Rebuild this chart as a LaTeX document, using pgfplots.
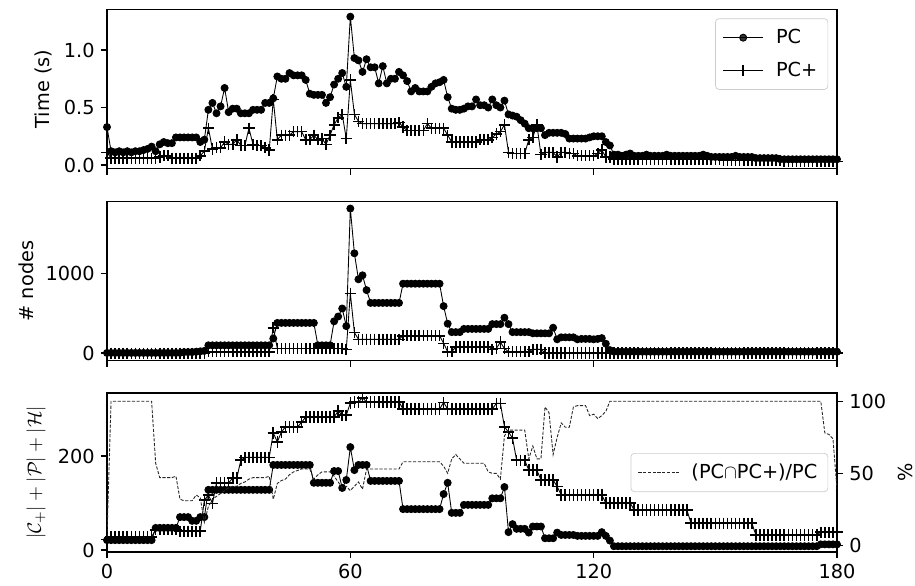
\documentclass[border=0pt]{standalone}
\usepackage{fontspec}
\setmainfont{DejaVu Sans}
\usepackage{pgfplots}
\usepackage{pgfplotstable}
\pgfplotsset{compat=1.18}

% x: step, tpc/tpp: time (s), npc/npp: # nodes, spc/spp: |C+|+|P|+|H|, ovl: overlap in %
\pgfplotstableread{
x tpc tpp npc npp spc spp ovl
0 0.33 0.11 5 2 21 22 6
1 0.12 0.06 5 2 21 28 100
2 0.11 0.06 5 2 21 28 100
3 0.12 0.06 5 2 21 28 100
4 0.11 0.06 5 2 21 28 100
5 0.12 0.06 5 2 21 28 100
6 0.11 0.06 5 2 21 28 100
7 0.12 0.06 5 2 21 28 100
8 0.12 0.06 5 2 21 28 100
9 0.13 0.06 5 2 21 28 100
10 0.14 0.06 5 2 21 28 100
11 0.16 0.06 5 2 21 28 100
12 0.12 0.06 5 2 47 43 57
13 0.18 0.07 5 2 47 43 47
14 0.20 0.08 5 2 47 43 47
15 0.19 0.08 5 2 47 43 47
16 0.19 0.06 5 2 47 43 47
17 0.24 0.06 5 2 47 43 48
18 0.24 0.06 5 2 70 40 32
19 0.24 0.06 15 2 70 40 31
20 0.24 0.06 15 2 70 40 31
21 0.24 0.06 15 2 62 40 31
22 0.24 0.06 20 2 62 40 35
23 0.20 0.08 25 2 70 40 33
24 0.22 0.12 30 2 70 106 16
25 0.48 0.32 100 20 128 117 27
26 0.54 0.14 100 20 128 99 32
27 0.45 0.15 100 20 128 143 34
28 0.51 0.15 100 20 128 143 36
29 0.67 0.20 100 20 128 143 38
30 0.46 0.18 100 20 128 143 40
31 0.49 0.18 100 20 128 153 41
32 0.49 0.22 100 20 128 153 41
33 0.45 0.17 100 20 128 191 43
34 0.45 0.17 100 20 128 197 44
35 0.45 0.32 100 20 128 197 46
36 0.48 0.18 100 20 128 197 47
37 0.48 0.17 100 20 128 197 47
38 0.48 0.17 100 20 128 197 47
39 0.54 0.15 100 20 128 197 47
40 0.54 0.13 100 20 128 197 48
41 0.58 0.57 185 320 181 249 32
42 0.77 0.22 380 60 181 230 43
43 0.75 0.26 380 60 181 251 45
44 0.75 0.26 380 60 181 262 46
45 0.80 0.26 380 60 181 262 49
46 0.78 0.29 380 60 181 262 51
47 0.78 0.29 380 60 181 262 52
48 0.78 0.29 380 60 181 272 53
49 0.74 0.22 380 60 181 283 53
50 0.62 0.22 380 60 181 283 53
51 0.61 0.26 380 60 143 283 46
52 0.61 0.22 100 60 143 283 49
53 0.61 0.23 100 60 143 283 51
54 0.54 0.18 100 60 143 283 51
55 0.59 0.26 100 60 143 283 51
56 0.70 0.35 400 60 168 283 48
57 0.75 0.41 460 60 168 296 44
58 0.80 0.44 560 60 132 287 40
59 0.68 0.23 340 50 149 287 41
60 1.29 0.74 1810 750 219 313 38
61 0.93 0.44 1250 260 170 315 41
62 0.91 0.38 925 175 181 315 44
63 0.81 0.36 975 175 181 324 39
64 0.92 0.36 790 175 181 315 53
65 0.85 0.36 630 175 147 315 53
66 0.85 0.36 630 175 147 315 53
67 0.71 0.36 630 175 147 315 53
68 0.86 0.36 630 175 147 315 53
69 0.71 0.36 630 175 147 315 53
70 0.75 0.36 630 175 147 315 53
71 0.75 0.36 630 175 147 315 53
72 0.81 0.37 630 175 147 315 53
73 0.78 0.33 870 220 87 300 58
74 0.73 0.30 870 220 87 300 58
75 0.64 0.30 870 220 87 300 58
76 0.67 0.30 870 220 87 300 58
77 0.64 0.30 870 220 87 300 58
78 0.64 0.30 870 220 87 300 58
79 0.64 0.36 870 220 87 300 58
80 0.68 0.32 870 220 87 300 58
81 0.71 0.32 870 220 87 300 58
82 0.72 0.32 870 220 87 300 58
83 0.74 0.32 590 125 119 314 55
84 0.59 0.26 370 20 143 300 50
85 0.49 0.20 265 20 79 300 60
86 0.48 0.20 265 80 79 300 63
87 0.48 0.20 265 80 79 300 60
88 0.49 0.20 305 80 96 300 57
89 0.51 0.20 305 80 96 300 57
90 0.51 0.20 305 80 96 300 57
91 0.57 0.20 305 80 96 300 57
92 0.52 0.22 305 80 96 300 57
93 0.52 0.22 305 80 96 300 57
94 0.50 0.22 305 80 96 300 51
95 0.57 0.24 365 50 110 300 50
96 0.52 0.27 365 60 110 312 50
97 0.50 0.29 365 140 110 312 46
98 0.56 0.35 445 60 134 262 76
99 0.44 0.11 365 20 38 251 80
100 0.43 0.10 265 20 55 238 80
101 0.42 0.10 265 20 45 191 80
102 0.39 0.10 265 20 45 191 80
103 0.36 0.10 265 20 45 191 80
104 0.32 0.22 265 20 37 170 60
105 0.32 0.24 250 50 50 170 69
106 0.32 0.35 250 50 50 170 60
107 0.32 0.09 250 50 50 149 60
108 0.26 0.11 250 5 25 149 96
109 0.28 0.11 250 5 25 149 92
110 0.28 0.11 320 5 25 149 63
111 0.28 0.07 175 5 37 135 75
112 0.28 0.11 200 5 32 117 85
113 0.27 0.11 200 5 32 117 82
114 0.23 0.10 200 5 32 117 82
115 0.23 0.10 200 5 32 117 96
116 0.23 0.08 175 5 30 117 97
117 0.23 0.08 180 5 30 117 97
118 0.23 0.08 180 5 30 117 97
119 0.24 0.08 180 5 30 117 90
120 0.25 0.08 175 5 30 117 91
121 0.25 0.10 180 5 30 117 88
122 0.25 0.13 190 5 38 117 90
123 0.20 0.07 120 5 30 100 93
124 0.17 0.07 40 5 20 100 100
125 0.09 0.05 20 5 8 100 100
126 0.09 0.05 20 5 8 100 100
127 0.08 0.05 20 5 8 100 100
128 0.09 0.05 20 5 8 100 100
129 0.10 0.05 20 5 8 100 100
130 0.08 0.05 20 5 8 85 100
131 0.08 0.05 20 5 8 85 100
132 0.08 0.05 20 5 8 85 100
133 0.09 0.05 20 5 8 85 100
134 0.08 0.05 20 5 8 85 100
135 0.08 0.05 20 5 8 85 100
136 0.08 0.05 20 5 8 85 100
137 0.08 0.05 20 5 8 85 100
138 0.09 0.05 20 5 8 85 100
139 0.08 0.05 20 5 8 85 100
140 0.08 0.05 20 5 8 85 100
141 0.08 0.05 20 5 8 85 100
142 0.08 0.05 20 5 8 85 100
143 0.08 0.05 20 5 8 85 100
144 0.08 0.05 20 5 8 57 100
145 0.08 0.05 20 5 8 57 100
146 0.08 0.05 20 5 8 57 100
147 0.09 0.05 20 5 8 57 100
148 0.08 0.05 20 5 8 57 100
149 0.07 0.05 20 5 8 57 100
150 0.07 0.05 20 5 8 57 100
151 0.07 0.05 20 5 8 57 100
152 0.07 0.04 20 5 8 57 100
153 0.07 0.04 20 5 8 57 100
154 0.07 0.04 20 5 8 57 100
155 0.08 0.04 20 5 8 57 100
156 0.07 0.04 20 5 8 57 100
157 0.07 0.04 20 5 8 57 100
158 0.07 0.04 20 5 8 57 100
159 0.07 0.04 20 5 8 57 100
160 0.06 0.04 20 5 8 32 100
161 0.06 0.04 20 5 8 32 100
162 0.06 0.04 20 5 8 32 100
163 0.06 0.04 20 5 8 32 100
164 0.06 0.04 20 5 8 32 100
165 0.06 0.04 20 5 8 32 100
166 0.05 0.04 20 5 8 32 100
167 0.05 0.03 20 5 8 32 100
168 0.05 0.03 20 5 8 32 100
169 0.05 0.03 20 5 8 32 100
170 0.05 0.03 20 5 8 32 100
171 0.05 0.03 20 5 8 32 100
172 0.05 0.03 20 5 8 32 100
173 0.05 0.03 20 5 8 32 100
174 0.05 0.03 20 5 8 32 100
175 0.05 0.03 20 5 8 32 100
176 0.05 0.03 20 5 12 38 100
177 0.05 0.03 20 5 12 38 78
178 0.05 0.03 20 5 12 38 77
179 0.05 0.03 20 5 12 38 74
180 0.05 0.03 20 5 12 38 39
}\data

\pgfplotsset{
  panel/.style={
    scale only axis, width=416.1pt, height=90.6pt,
    xmin=0, xmax=180, xtick={0,60,120,180},
    tick align=outside, tick pos=left,
    major tick length=3.5pt,
    every tick/.style={black, line width=0.8pt},
    axis line style={line width=0.8pt},
    /pgf/number format/assume math mode=true,
    /pgf/number format/1000 sep={},
    tick label style={font=\fontsize{11}{13}\selectfont},
    label style={font=\fontsize{11}{13}\selectfont},
    legend cell align=left,
    legend style={draw=black!20, rounded corners=2pt, fill=white,
      fill opacity=0.8, text opacity=1, inner sep=4pt, row sep=5pt,
      column sep=5pt, font=\fontsize{11}{13}\selectfont},
    legend image code/.code={%
      \draw[mark repeat=2,mark phase=2] plot coordinates {(0pt,0pt) (11.5pt,0pt) (23pt,0pt)};},
  },
  pcs/.style={black, line width=0.5pt, mark=*, mark size=2.0pt, mark options={solid, fill=black}},
  pps/.style={black, line width=0.5pt, mark=+, mark size=3.2pt, mark options={solid, line width=0.9pt}},
}

\begin{document}
\begin{tikzpicture}
\path[use as bounding box] (0,0) rectangle (521.55pt,-334.02pt);

% time
\begin{axis}[panel, at={(60.99pt,-96.05pt)}, anchor=south west,
  ymin=-0.0304, ymax=1.352, ytick={0,0.5,1},
  yticklabel style={/pgf/number format/fixed, /pgf/number format/fixed zerofill, /pgf/number format/precision=1},
  xticklabels={}, ylabel={Time (s)},
  legend style={at={(1,1)}, anchor=north east, xshift=-5pt, yshift=-5pt}]
\addplot[pcs] table[x=x, y=tpc] {\data};
\addplot[pps] table[x=x, y=tpp] {\data};
\legend{PC, PC+}
\end{axis}

% nodes
\begin{axis}[panel, at={(60.99pt,-205.49pt)}, anchor=south west,
  ymin=-90, ymax=1897, ytick={0,1000},
  xticklabels={}, ylabel={\# nodes}]
\addplot[pcs] table[x=x, y=npc] {\data};
\addplot[pps] table[x=x, y=npp] {\data};
\end{axis}

% sizes
\begin{axis}[panel, at={(60.99pt,-314.64pt)}, anchor=south west,
  ymin=-4.3, ymax=334, ytick={0,200},
  ylabel={$|\mathcal{C}_+|+|\mathcal{P}|+|\mathcal{H}|$}]
\addplot[pcs] table[x=x, y=spc] {\data};
\addplot[pps] table[x=x, y=spp] {\data};
\end{axis}

% overlap, right axis
\begin{axis}[panel, at={(60.99pt,-314.64pt)}, anchor=south west,
  ymin=-4.6, ymax=105.7, ytick={0,50,100},
  xtick=\empty, ytick pos=right, yticklabel pos=right,
  ylabel={\%},
  legend style={at={(1,0.5)}, anchor=east, xshift=-5pt}]
\addplot[black!85, line width=0.5pt, dash pattern=on 1.8pt off 0.9pt] table[x=x, y=ovl] {\data};
\legend{(PC$\cap$PC+)/PC}
\end{axis}
\end{tikzpicture}
\end{document}
